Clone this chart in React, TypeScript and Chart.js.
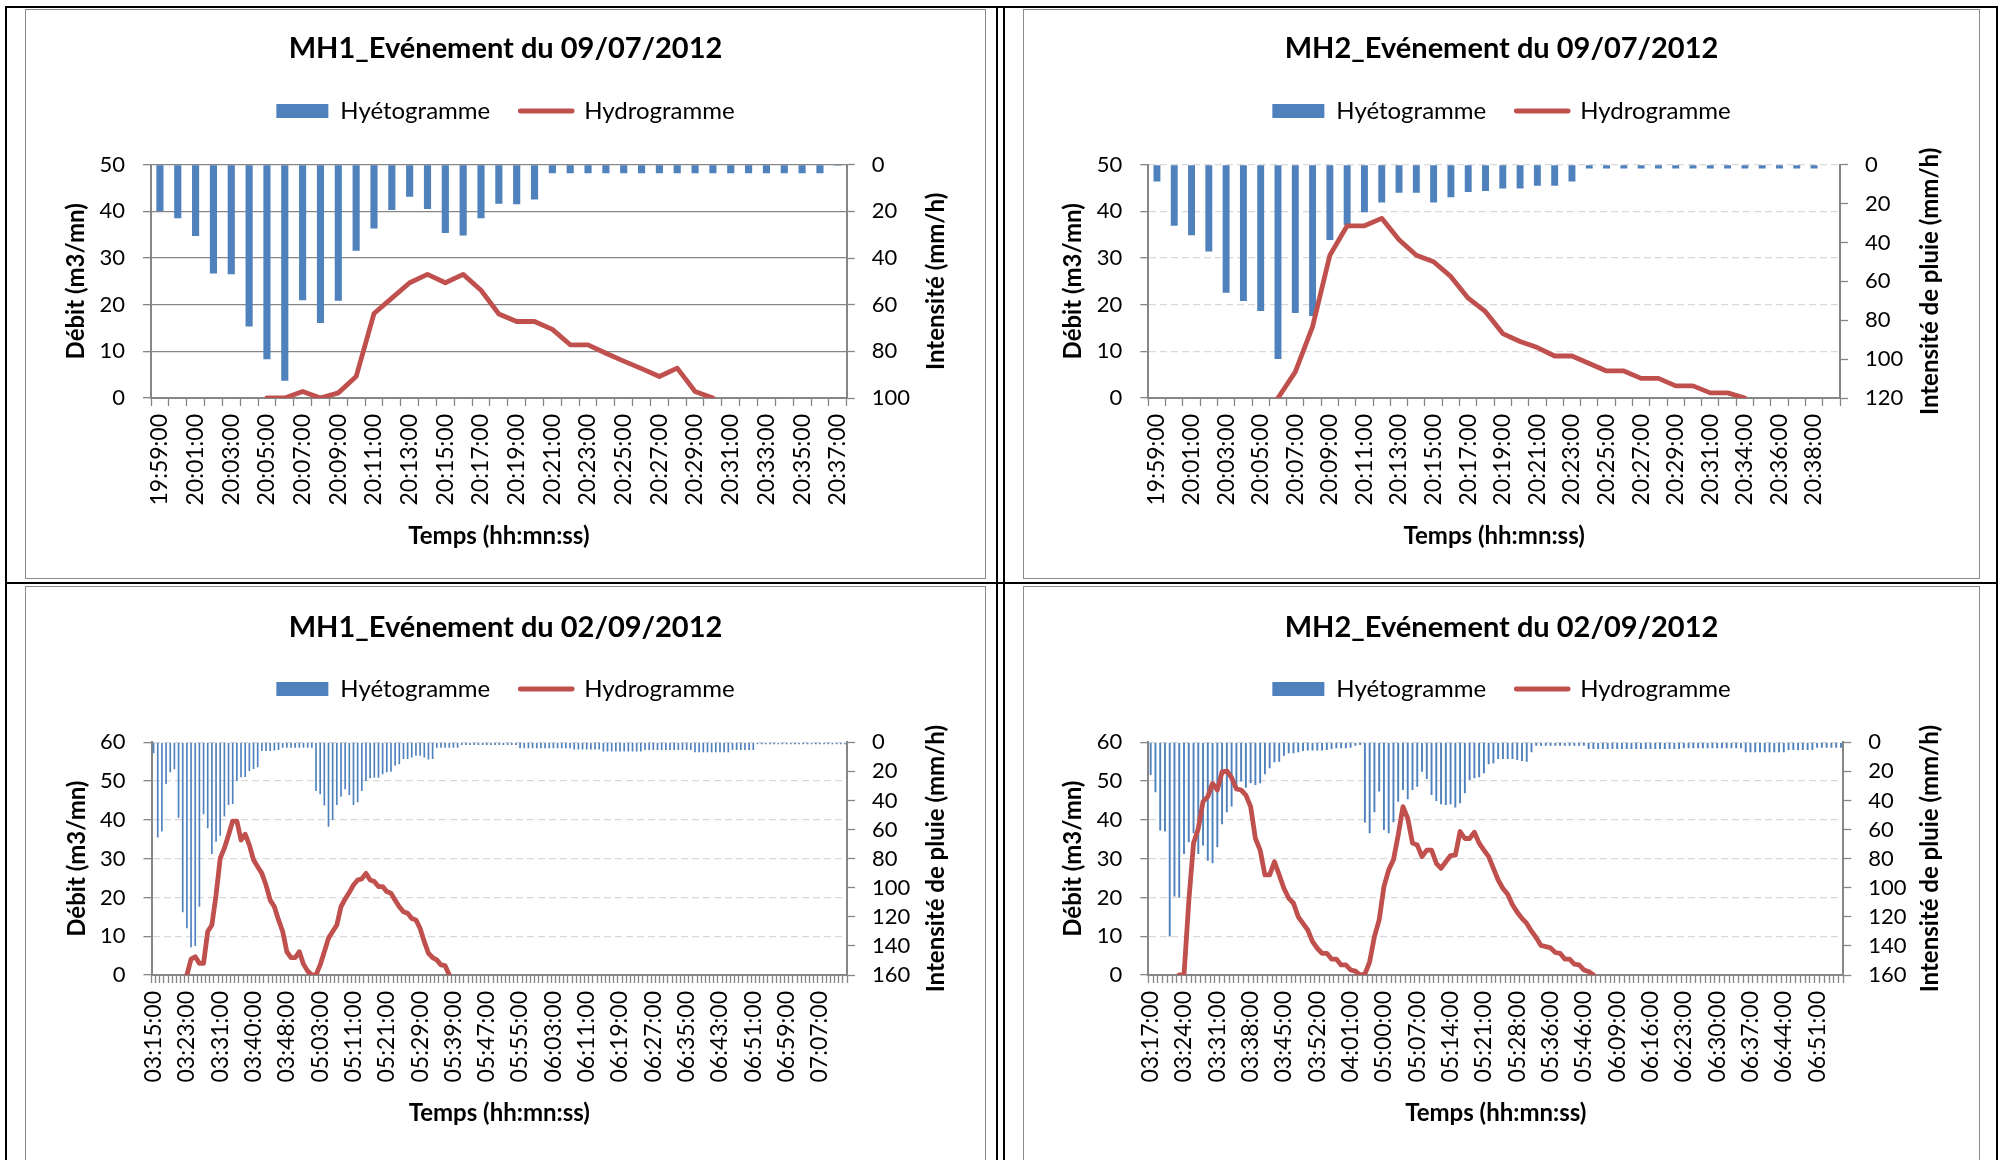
import React, { useEffect, useRef } from "react";
import { Chart, registerables } from "chart.js";

Chart.register(...registerables);

const FONT = "Lato, 'Open Sans', 'DejaVu Sans', sans-serif";
const BLUE = "#4F81BD";
const RED = "#C0504D";
const AXIS = "#868686";

// ---------------- MH1 – 09/07/2012 ----------------
const MH1_0907_TICKS = [
  "19:59:00", "20:01:00", "20:03:00", "20:05:00", "20:07:00", "20:09:00", "20:11:00",
  "20:13:00", "20:15:00", "20:17:00", "20:19:00", "20:21:00", "20:23:00", "20:25:00",
  "20:27:00", "20:29:00", "20:31:00", "20:33:00", "20:35:00", "20:37:00",
];
const MH1_0907_HYETO = [
  20, 23, 30.6, 46.6, 47, 69.4, 83.4, 92.6, 58.1, 67.9,
  58.3, 36.9, 27.4, 19.4, 13.7, 19, 29.3, 30.4, 23, 16.7,
  17, 14.9, 3.7, 3.7, 3.7, 3.7, 3.7, 3.7, 3.7, 3.7,
  3.7, 3.7, 3.7, 3.7, 3.7, 3.7, 3.7, 3.7, 0.5,
];
const MH1_0907_HYDRO_START = 6;
const MH1_0907_HYDRO = [
  0, 0, 1.4, 0, 1.1, 4.6, 18.1, 21.4, 24.7, 26.5,
  24.7, 26.5, 23.1, 18, 16.4, 16.4, 14.7, 11.4, 11.4, 9.6,
  7.9, 6.3, 4.6, 6.4, 1.4, 0,
];

// ---------------- MH2 – 09/07/2012 ----------------
const MH2_0907_TICKS = [
  "19:59:00", "20:01:00", "20:03:00", "20:05:00", "20:07:00", "20:09:00", "20:11:00",
  "20:13:00", "20:15:00", "20:17:00", "20:19:00", "20:21:00", "20:23:00", "20:25:00",
  "20:27:00", "20:29:00", "20:31:00", "20:34:00", "20:36:00", "20:38:00",
];
const MH2_0907_HYETO = [
  8.7, 31.4, 36.3, 44.7, 65.8, 70.1, 75.3, 99.9, 76.3, 77.8,
  38.7, 31, 24.5, 19.4, 14.4, 14.4, 19.4, 16.8, 14.1, 13.5,
  12.2, 12.2, 10.8, 10.8, 8.7, 1.9, 1.9, 1.9, 1.9, 1.9,
  1.9, 1.9, 1.9, 1.9, 1.9, 1.9, 1.9, 1.9, 1.9, 0.3,
];
const MH2_0907_HYDRO_START = 7;
const MH2_0907_HYDRO = [
  0, 5.6, 15.3, 30.6, 36.9, 36.9, 38.5, 33.9, 30.6, 29.2,
  26, 21.4, 18.5, 13.8, 12.1, 10.8, 9.0, 9.0, 7.4, 5.8,
  5.8, 4.2, 4.2, 2.6, 2.6, 1.1, 1.1, 0,
];

// ---------------- MH1 – 02/09/2012 ----------------
const MH1_0209_TICKS = [
  "03:15:00", "03:23:00", "03:31:00", "03:40:00", "03:48:00", "05:03:00", "05:11:00",
  "05:21:00", "05:29:00", "05:39:00", "05:47:00", "05:55:00", "06:03:00", "06:11:00",
  "06:19:00", "06:27:00", "06:35:00", "06:43:00", "06:51:00", "06:59:00", "07:07:00",
];
const MH1_0209_HYETO = [
  7.6, 65.5, 61.4, 28.6, 20.6, 18.6, 51.8, 116.9, 127.9, 141,
  140, 113, 49.5, 59.1, 76.8, 68.3, 64.2, 51.1, 43.1, 42.4,
  26.6, 24.1, 23.8, 19.7, 18.3, 17.2, 6.0, 6.0, 6.0, 5.7,
  5.3, 3.7, 3.7, 3.7, 3.7, 3.7, 3.7, 3.7, 3.7, 33.5,
  35.8, 43.5, 58, 53.4, 43.1, 37.4, 32.3, 36.2, 43.1, 41.3,
  33.5, 26.6, 24.8, 24.3, 24.3, 22, 20.6, 20.2, 16, 15.1,
  11.5, 11.5, 10.5, 9.2, 9.2, 10.5, 11.9, 11.5, 3.7, 3.7,
  3.7, 3.7, 3.7, 3.7, 1.8, 1.8, 1.8, 1.8, 1.8, 1.8,
  1.8, 1.8, 1.8, 1.8, 1.8, 1.8, 1.8, 1.8, 4.1, 4.1,
  4.1, 4.1, 4.1, 4.1, 4.1, 4.1, 4.1, 4.1, 4.1, 4.1,
  4.1, 5.0, 5.0, 5.0, 5.0, 5.0, 5.0, 5.0, 6.4, 6.4,
  6.4, 6.4, 6.4, 6.4, 6.4, 6.4, 6.4, 6.4, 5.3, 5.3,
  5.3, 5.3, 5.3, 5.3, 5.3, 5.3, 5.3, 5.3, 5.3, 5.3,
  6.9, 6.9, 6.9, 6.9, 6.9, 6.9, 6.9, 6.9, 6.9, 5.3,
  5.3, 5.3, 5.3, 5.3, 5.3, 1.4, 1.4, 1.4, 1.4, 1.4,
  1.4, 1.4, 1.4, 1.4, 1.4, 1.4, 1.4, 1.4, 1.4, 1.4,
  1.4, 1.4, 1.4, 1.4, 1.4, 1.4, 1.4,
];
const MH1_0209_HYDRO_START = 8;
const MH1_0209_HYDRO = [
  0, 4.1, 4.7, 3.0, 3.0, 11.2, 12.9, 20.6, 30.1, 32.7, 36.1, 39.7,
  39.7, 34.8, 36.3, 33.5, 29.7, 27.9, 26.2, 23.2, 19.3, 17.6,
  14.2, 11.2, 6.0, 4.5, 4.5, 6.0, 2.8, 1.0, 0, 0,
  2.6, 6.0, 9.5, 11.2, 12.9, 17.6, 19.6, 21.3, 23.2, 24.5,
  24.8, 26.2, 24.5, 24.1, 22.8, 22.8, 21.5, 21.1, 19.3, 17.6,
  16.3, 15.9, 14.6, 14.2, 12.0, 8.6, 5.6, 4.5, 3.9, 2.6,
  2.4, 0,
];

// ---------------- MH2 – 02/09/2012 ----------------
const MH2_0209_TICKS = [
  "03:17:00", "03:24:00", "03:31:00", "03:38:00", "03:45:00", "03:52:00", "04:01:00",
  "05:00:00", "05:07:00", "05:14:00", "05:21:00", "05:28:00", "05:36:00", "05:46:00",
  "06:09:00", "06:16:00", "06:23:00", "06:30:00", "06:37:00", "06:44:00", "06:51:00",
];
const MH2_0209_HYETO = [
  22.5, 34.4, 60.7, 61.4, 133.6, 106.1, 106.8, 76.8, 68.8, 62.6,
  76.8, 71, 81.4, 83.2, 72.2, 56.4, 48.1, 44.2, 31.2, 27,
  31.2, 28.2, 29.3, 28.2, 22, 17.9, 13.8, 13.3, 9.2, 7.6,
  7.6, 6.9, 6.0, 5.7, 5.7, 5.7, 5.7, 5.3, 4.6, 4.1,
  4.1, 4.1, 3.7, 2.3, 1.8, 55.2, 62.6, 48.1, 33.9, 60.3,
  62.6, 55, 40.8, 32.8, 39.2, 32.8, 30.5, 20.2, 25.2, 36.2,
  40.3, 42.6, 43.1, 42.6, 44.9, 41.9, 35.1, 25.9, 24.8, 24.1,
  21.3, 15.1, 14.4, 11.5, 11.5, 11.5, 11.5, 12.1, 12.8, 13.3,
  6.9, 2.3, 2.3, 2.3, 2.3, 2.3, 2.3, 2.3, 2.3, 2.3,
  2.3, 2.3, 4.6, 4.6, 4.6, 4.6, 4.6, 4.6, 4.6, 4.6,
  4.6, 4.6, 4.6, 4.6, 4.6, 4.6, 4.6, 4.6, 4.6, 4.6,
  4.6, 4.6, 4.1, 4.1, 4.1, 4.1, 4.1, 4.1, 4.1, 4.1,
  4.1, 4.1, 4.1, 4.1, 4.1, 6.9, 6.9, 6.9, 6.9, 6.9,
  6.9, 6.9, 6.9, 6.9, 5.3, 5.3, 5.3, 5.3, 5.3, 5.3,
  3.7, 3.7, 3.7, 3.7, 3.7, 3.7,
];
const MH2_0209_HYDRO_START = 6;
const MH2_0209_HYDRO = [
  0, 0,
  18.9, 34, 37.8, 44.7, 46, 49.4, 47.7, 52.4, 52.6, 50.9,
  48, 47.7, 46.4, 43.4, 35.2, 32.2, 25.8, 25.8, 29.2, 25.8,
  22.3, 19.8, 18.5, 15, 13.3, 11.6, 8.6, 6.9, 5.6, 5.6,
  4.1, 4.1, 2.6, 2.6, 1.3, 1.0, 0, 0.2, 3.4, 9.9,
  14.2, 22.8, 27.1, 29.7, 36.1, 43.4, 40.4, 34, 33.5, 30.5,
  32.2, 32.2, 28.8, 27.5, 29.2, 30.8, 30.9, 37, 35.2, 35.2,
  36.8, 34, 32.2, 30.5, 27.5, 24.5, 22.3, 20.8, 18.1, 16.2,
  14.6, 13.3, 11.3, 9.6, 7.6, 7.3, 7.0, 5.8, 5.6, 4.1,
  4.1, 2.8, 2.6, 1.3, 0.9, 0,
];

type Geo = {
  box: { x: number; y: number; w: number; h: number };
  plot: { l: number; r: number; t: number; b: number };
  titleY: number;
  legendY: number;
  leftTitleX: number;
  rightTitleX: number;
  xTitleY: number;
};

type PanelProps = {
  title: string;
  ticks: string[];
  step: number;
  hyeto: number[];
  hydro: number[];
  hydroStart: number;
  leftMax: number;
  leftStep: number;
  rightMax: number;
  rightStep: number;
  rightTitle: string;
  dashed: boolean;
  geo: Geo;
};

function Panel(p: PanelProps) {
  const ref = useRef<HTMLCanvasElement | null>(null);
  const g = p.geo;
  const cw = g.box.w - 2;
  const ch = g.box.h - 2;

  useEffect(() => {
    if (!ref.current) return;
    const ox = g.box.x + 1;
    const oy = g.box.y + 1;
    const TS = 29; // title size
    const LS = 24; // legend size
    const LP = 30; // legend padding
    const AX = 24; // axis title size
    const axLH = AX * 1.2;
    const LW = 4.8; // hydrogram line width

    const plotL = g.plot.l - ox;
    const plotR = g.plot.r - ox;
    const plotT = g.plot.t - oy;
    const plotB = g.plot.b - oy;
    const titleY = g.titleY - oy;
    const legendY = g.legendY - oy;
    const legendTop = legendY - LS / 2 - LP;
    const titlePadTop = titleY - TS / 2;
    const titlePadBottom = legendTop - (titleY + TS / 2);
    const legendHeight = plotT - legendTop;
    const leftTitlePad = g.leftTitleX - ox - axLH / 2;
    const xTitlePad = ch - (g.xTitleY - oy) - axLH / 2;
    const rightTitleX = g.rightTitleX - ox;

    const n = p.hyeto.length;
    const labels = Array.from({ length: n }, (_, i) =>
      i % p.step === 0 ? p.ticks[i / p.step] ?? "" : ""
    );
    const flow = Array.from({ length: n }, (_, i) =>
      i >= p.hydroStart && i < p.hydroStart + p.hydro.length ? p.hydro[i - p.hydroStart] : null
    );

    const gridColor = p.dashed ? "#D9D9D9" : "#868686";

    const legendSpacer = {
      id: "legendSpacer",
      beforeLayout(chart: any) {
        const lg = chart.legend;
        if (lg && !lg.__patched) {
          const orig = lg.fit;
          lg.fit = function () {
            orig.call(this);
            this.height = legendHeight;
          };
          lg.__patched = true;
        }
      },
    };

    const rightTitle = {
      id: "rightTitle",
      afterDraw(chart: any) {
        const s = chart.scales.y1;
        const text = s.options.title.text;
        const ctx = chart.ctx;
        ctx.save();
        ctx.translate(rightTitleX, (chart.chartArea.top + chart.chartArea.bottom) / 2);
        ctx.rotate(-Math.PI / 2);
        ctx.font = `bold ${AX}px ${FONT}`;
        ctx.fillStyle = "#000";
        ctx.textAlign = "center";
        ctx.textBaseline = "middle";
        ctx.fillText(text, 0, 0);
        ctx.restore();
      },
    };

    const cfg: any = {
      type: "bar",
      data: {
        labels,
        datasets: [
          {
            type: "bar",
            label: "Hyétogramme",
            data: p.hyeto,
            yAxisID: "y1",
            backgroundColor: BLUE,
            borderWidth: 0,
            barPercentage: 0.4,
            categoryPercentage: 1,
            order: 2,
          },
          {
            type: "line",
            label: "Hydrogramme",
            data: flow,
            yAxisID: "y",
            borderColor: RED,
            backgroundColor: RED,
            borderWidth: LW,
            pointRadius: 0,
            pointHoverRadius: 0,
            tension: 0,
            spanGaps: false,
            borderJoinStyle: "round",
            borderCapStyle: "round",
            order: 1,
          },
        ],
      },
      options: {
        responsive: false,
        animation: false,
        devicePixelRatio: 1,
        events: [],
        layout: { padding: 0 },
        plugins: {
          tooltip: { enabled: false },
          title: {
            display: true,
            text: p.title,
            color: "#000",
            font: { family: FONT, size: TS, weight: "bold", lineHeight: 1 },
            padding: { top: titlePadTop, bottom: titlePadBottom },
          },
          legend: {
            display: true,
            position: "top",
            labels: {
              usePointStyle: true,
              pointStyleWidth: 52,
              boxHeight: 14,
              padding: LP,
              color: "#000",
              font: { family: FONT, size: LS },
              generateLabels: (chart: any) =>
                chart.data.datasets.map((ds: any, i: number) => {
                  const isLine = ds.type === "line";
                  return {
                    text: ds.label,
                    datasetIndex: i,
                    hidden: false,
                    fillStyle: isLine ? RED : BLUE,
                    strokeStyle: isLine ? RED : BLUE,
                    lineWidth: isLine ? LW : 0,
                    lineCap: "round",
                    pointStyle: isLine ? "line" : "rect",
                    fontColor: "#000",
                  };
                }),
            },
          },
        },
        scales: {
          x: {
            type: "category",
            offset: true,
            grid: {
              display: true,
              drawOnChartArea: false,
              drawTicks: true,
              tickLength: 8,
              tickColor: AXIS,
              tickWidth: 1.3,
              offset: true,
            },
            border: { display: true, color: AXIS, width: 2 },
            ticks: {
              autoSkip: false,
              minRotation: 90,
              maxRotation: 90,
              padding: 8,
              color: "#000",
              font: { family: FONT, size: 23 },
            },
            title: {
              display: true,
              text: "Temps (hh:mn:ss)",
              color: "#000",
              font: { family: FONT, size: AX, weight: "bold" },
              padding: { top: 0, bottom: xTitlePad },
            },
            afterFit: (s: any) => {
              s.height = ch - plotB;
            },
          },
          y: {
            position: "left",
            min: 0,
            max: p.leftMax,
            ticks: {
              stepSize: p.leftStep,
              autoSkip: false,
              padding: 18,
              color: "#000",
              font: { family: FONT, size: 22 },
            },
            grid: {
              color: gridColor,
              lineWidth: 1.3,
              drawTicks: true,
              tickLength: 8,
              tickColor: AXIS,
              tickWidth: 1.3,
            },
            border: {
              display: true,
              color: AXIS,
              width: 2,
              dash: p.dashed ? [7, 4] : [],
            },
            title: {
              display: true,
              text: "Débit (m3/mn)",
              color: "#000",
              font: { family: FONT, size: AX, weight: "bold" },
              padding: { top: leftTitlePad, bottom: 0 },
            },
            afterFit: (s: any) => {
              s.width = plotL;
            },
          },
          y1: {
            position: "right",
            reverse: true,
            min: 0,
            max: p.rightMax,
            ticks: {
              stepSize: p.rightStep,
              autoSkip: false,
              padding: 17,
              color: "#000",
              font: { family: FONT, size: 22 },
            },
            grid: {
              drawOnChartArea: false,
              drawTicks: true,
              tickLength: 8,
              tickColor: AXIS,
              tickWidth: 1.3,
            },
            border: { display: true, color: AXIS, width: 2 },
            title: { display: false, text: p.rightTitle },
            afterFit: (s: any) => {
              s.width = cw - plotR;
            },
          },
        },
      },
      plugins: [legendSpacer, rightTitle],
    };

    const chart = new Chart(ref.current, cfg);
    let alive = true;
    const fonts: any = (document as any).fonts;
    if (fonts && fonts.load) {
      Promise.all([
        fonts.load(`bold ${TS}px Lato`),
        fonts.load(`${LS}px Lato`),
      ])
        .then(() => {
          if (alive) chart.update();
        })
        .catch(() => {});
    }
    return () => {
      alive = false;
      chart.destroy();
    };
  }, []);

  return (
    <div
      style={{
        position: "absolute",
        left: g.box.x,
        top: g.box.y,
        width: g.box.w,
        height: g.box.h,
        border: "1px solid #8C8C8C",
        boxSizing: "border-box",
        background: "#fff",
      }}
    >
      <canvas
        ref={ref}
        width={cw}
        height={ch}
        style={{ display: "block", width: cw, height: ch }}
      />
    </div>
  );
}

const GEO_TL: Geo = {
  box: { x: 25, y: 9, w: 961, h: 570 },
  plot: { l: 151, r: 846.7, t: 164.7, b: 398 },
  titleY: 48.7,
  legendY: 111,
  leftTitleX: 76.7,
  rightTitleX: 936.7,
  xTitleY: 536.7,
};
const GEO_TR: Geo = {
  box: { x: 1023, y: 9, w: 957, h: 570 },
  plot: { l: 1148.3, r: 1840, t: 164.7, b: 398 },
  titleY: 48.7,
  legendY: 111,
  leftTitleX: 1073.3,
  rightTitleX: 1930,
  xTitleY: 536.7,
};
const GEO_BL: Geo = {
  box: { x: 25, y: 586, w: 961, h: 600 },
  plot: { l: 151.5, r: 847, t: 742.3, b: 975 },
  titleY: 627.5,
  legendY: 689,
  leftTitleX: 76.8,
  rightTitleX: 936,
  xTitleY: 1112.8,
};
const GEO_BR: Geo = {
  box: { x: 1023, y: 586, w: 957, h: 600 },
  plot: { l: 1148.3, r: 1843.3, t: 742.3, b: 975 },
  titleY: 627.5,
  legendY: 689,
  leftTitleX: 1073,
  rightTitleX: 1930,
  xTitleY: 1112.8,
};

const line = (l: number, t: number, w: number, h: number) => (
  <div style={{ position: "absolute", left: l, top: t, width: w, height: h, background: "#000" }} />
);

export default function App() {
  return (
    <div
      style={{
        position: "fixed",
        left: 0,
        top: 0,
        width: 2008,
        height: 1160,
        overflow: "hidden",
        background: "#fff",
      }}
    >
      {line(5, 6, 1993, 2)}
      {line(5, 582, 1993, 2)}
      {line(5, 6, 2, 1154)}
      {line(996, 6, 2, 1154)}
      {line(1003, 6, 2, 1154)}
      {line(1996, 6, 2, 1154)}
      <Panel
        title="MH1_Evénement du 09/07/2012"
        ticks={MH1_0907_TICKS}
        step={2}
        hyeto={MH1_0907_HYETO}
        hydro={MH1_0907_HYDRO}
        hydroStart={MH1_0907_HYDRO_START}
        leftMax={50}
        leftStep={10}
        rightMax={100}
        rightStep={20}
        rightTitle="Intensité (mm/h)"
        dashed={false}
        geo={GEO_TL}
      />
      <Panel
        title="MH2_Evénement du 09/07/2012"
        ticks={MH2_0907_TICKS}
        step={2}
        hyeto={MH2_0907_HYETO}
        hydro={MH2_0907_HYDRO}
        hydroStart={MH2_0907_HYDRO_START}
        leftMax={50}
        leftStep={10}
        rightMax={120}
        rightStep={20}
        rightTitle="Intensité de pluie (mm/h)"
        dashed={true}
        geo={GEO_TR}
      />
      <Panel
        title="MH1_Evénement du 02/09/2012"
        ticks={MH1_0209_TICKS}
        step={8}
        hyeto={MH1_0209_HYETO}
        hydro={MH1_0209_HYDRO}
        hydroStart={MH1_0209_HYDRO_START}
        leftMax={60}
        leftStep={10}
        rightMax={160}
        rightStep={20}
        rightTitle="Intensité de pluie (mm/h)"
        dashed={true}
        geo={GEO_BL}
      />
      <Panel
        title="MH2_Evénement du 02/09/2012"
        ticks={MH2_0209_TICKS}
        step={7}
        hyeto={MH2_0209_HYETO}
        hydro={MH2_0209_HYDRO}
        hydroStart={MH2_0209_HYDRO_START}
        leftMax={60}
        leftStep={10}
        rightMax={160}
        rightStep={20}
        rightTitle="Intensité de pluie (mm/h)"
        dashed={true}
        geo={GEO_BR}
      />
    </div>
  );
}
